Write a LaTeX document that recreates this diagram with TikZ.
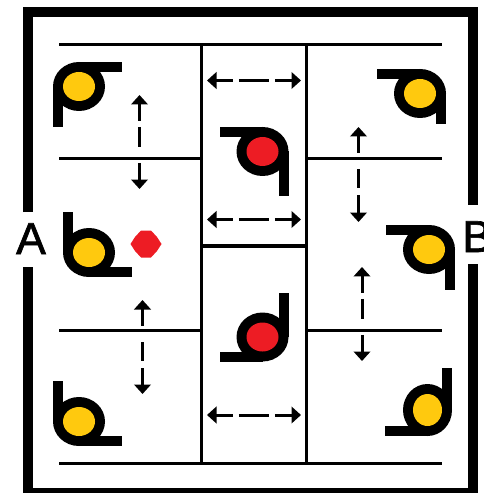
\documentclass[tikz,border=0pt]{standalone}
\usepackage{fontspec}
\newfontfamily\gatefont[FakeBold=1.5]{Liberation Sans}
\usetikzlibrary{arrows.meta}
\definecolor{fanyellow}{RGB}{255,201,14}
\definecolor{fanred}{RGB}{237,28,36}
\begin{document}
\begin{tikzpicture}[
  x=0.02cm, y=-0.02cm,
  wall/.style={line width=.2cm, line join=miter},
  partition/.style={line width=.06cm},
  fanline/.style={line width=.2cm},
  flap/.style={line width=.06cm, {Triangle[length=.19cm, width=.33cm]}-{Triangle[length=.19cm, width=.33cm]}},
  flapa/.style={flap, dash pattern=on .34cm off .12cm on .40cm off .32cm on 1cm},
  flapb/.style={flap, dash pattern=on .34cm off .33cm on .38cm off .14cm on 1cm},
  flapc/.style={flap, dash pattern=on .34cm off .12cm on .60cm off .12cm on 1cm},
  label/.style={font=\gatefont\fontsize{25.4pt}{30pt}\selectfont, inner sep=0pt},
  pics/fan/.style n args={4}{code={
    \fill (0,0) ellipse ({#3+10} and {#4+10});
    \fill[#1] (0,0) ellipse (#3 and #4);
    \draw[fanline] ({-#3-5},0) -- ({-#3-5},#2);
    \draw[fanline] (0,{-#4-5}) -- (43,{-#4-5});
  }}
]
\useasboundingbox (0,0) rectangle (483,493);

% outer walls
\draw[wall] (28,212) -- (28,12) -- (473,12) -- (473,205);
\draw[wall] (28,267) -- (28,493) -- (473,493) -- (473,264);

% partitions
\draw[partition] (59,44.5) -- (442,44.5);
\draw[partition] (59,463.5) -- (442,463.5);
\draw[partition] (201.5,44.5) -- (201.5,463.5);
\draw[partition] (306.5,44.5) -- (306.5,463.5);
\draw[partition] (59,158.5) -- (201.5,158.5);
\draw[partition] (59,330.5) -- (201.5,330.5);
\draw[partition] (306.5,158.5) -- (442,158.5);
\draw[partition] (306.5,330.5) -- (442,330.5);
\draw[line width=.08cm] (201.5,246) -- (306.5,246);

% fans
\pic at (79,86.5) {fan={fanyellow}{40.5}{16}{14.5}};
\pic at (89,252.5) [yscale=-1] {fan={fanyellow}{40.5}{16}{14.5}};
\pic at (79,421.5) [yscale=-1] {fan={fanyellow}{40.5}{16}{14.5}};
\pic at (420,93.5) [xscale=-1] {fan={fanyellow}{30.5}{16}{14.5}};
\pic at (429,249.5) [xscale=-1] {fan={fanyellow}{40.5}{16}{14.5}};
\pic at (427.5,410) [xscale=-1, yscale=-1] {fan={fanyellow}{42}{14.5}{16}};
\pic at (262.5,151.5) [xscale=-1] {fan={fanred}{44.5}{16}{14.5}};
\pic at (262.5,337) [xscale=-1, yscale=-1] {fan={fanred}{44}{16}{14.5}};

% sensor
\fill[fanred] (141,230.5) -- (151,230.5) -- (157,237) -- (161.5,244) -- (157,251)
  -- (151,257.5) -- (141,257.5) -- (135,251) -- (130.5,244) -- (135,237) -- cycle;

% flaps
\coordinate (lua) at (139.5,95);
\coordinate (lub) at (139.5,189);
\coordinate (lla) at (142.5,300);
\coordinate (llb) at (142.5,394);
\coordinate (rua) at (358.5,127);
\coordinate (rub) at (358.5,222);
\coordinate (rla) at (362,267);
\coordinate (rlb) at (362,361);
\coordinate (tla) at (207,80.5);
\coordinate (tlb) at (301,80.5);
\coordinate (mla) at (207,219.5);
\coordinate (mlb) at (301,219.5);
\coordinate (bla) at (207,415);
\coordinate (blb) at (301,415);
\draw[flapa] (lua) -- (lub);
\draw[flapb] (lla) -- (llb);
\draw[flapb] (rua) -- (rub);
\draw[flapa] (rla) -- (rlb);
\draw[flapc] (tla) -- (tlb);
\draw[flapc] (mla) -- (mlb);
\draw[flapc] (bla) -- (blb);

\node[label, anchor=base] (inlet) at (31,254) {A};
\node[label, anchor=base west] (outlet) at (462,252) {B};
\end{tikzpicture}
\end{document}
